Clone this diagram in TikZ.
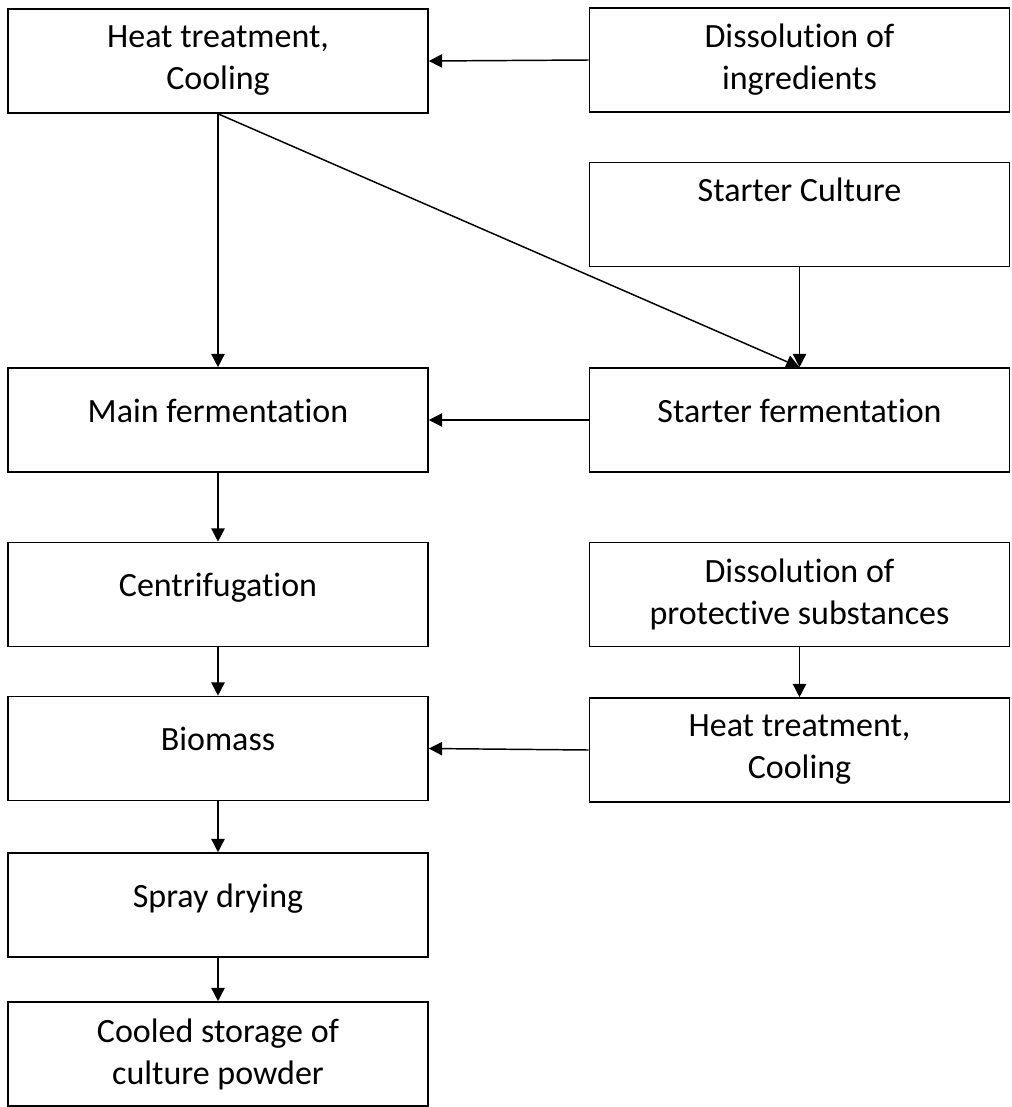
\documentclass[tikz,border=0pt]{standalone}
\usepackage{fontspec}
\setmainfont{Carlito}[RawFeature={-liga;-clig;-calt;-rlig;-dlig}]
\usetikzlibrary{
		positioning,
		arrows.meta
	}
\tikzset{
		>={Triangle[length=10pt,width=10pt]},
		procbox/.style={draw=black, line width=1.2pt, fill=white,
			minimum width=315pt, minimum height=78pt, inner sep=0pt,
			align=center, font=\fontsize{25.5}{31.5}\selectfont},
		oneline/.style={text height=15pt, text depth=12pt},
		highline/.style={text height=15pt, text depth=34.5pt},
		flow/.style={->, line width=1.1pt}
	}

\begin{document}
\begin{tikzpicture}[x=0.75pt, y=-0.75pt]
		\useasboundingbox (0, 0) rectangle (1011, 1107);
		% left column
		\node[procbox] (heatA) at (218, 61) {Heat treatment,\\Cooling};
		\node[procbox, oneline] (mainferm) at (218, 420) {Main fermentation};
		\node[procbox, oneline] (centri) at (218, 594.5) {Centrifugation};
		\node[procbox, oneline] (biomass) at (218, 748.5) {Biomass};
		\node[procbox, oneline] (spray) at (218, 905) {Spray drying};
		\node[procbox] (storage) at (218, 1054) {Cooled storage of\\culture powder};
		% right column
		\node[procbox] (dissIngr) at (799.5, 60) {Dissolution of\\ingredients};
		\node[procbox, highline] (culture) at (799.5, 214.5) {Starter Culture};
		\node[procbox, oneline] (startferm) at (799.5, 420) {Starter fermentation};
		\node[procbox] (dissProt) at (799.5, 594.5) {Dissolution of\\protective substances};
		\node[procbox] (heatB) at (799.5, 750) {Heat treatment,\\Cooling};
		% connectors
		\draw[flow] (dissIngr.west) -- (heatA.east);
		\draw[flow] (heatA.south) -- (mainferm.north);
		\draw[flow] (heatA.south) -- (startferm.north);
		\draw[flow] (culture.south) -- (startferm.north);
		\draw[flow] (startferm.west) -- (mainferm.east);
		\draw[flow] (mainferm.south) -- (centri.north);
		\draw[flow] (centri.south) -- (biomass.north);
		\draw[flow] (dissProt.south) -- (heatB.north);
		\draw[flow] (heatB.west) -- (biomass.east);
		\draw[flow] (biomass.south) -- (spray.north);
		\draw[flow] (spray.south) -- (storage.north);
	\end{tikzpicture}
\end{document}
